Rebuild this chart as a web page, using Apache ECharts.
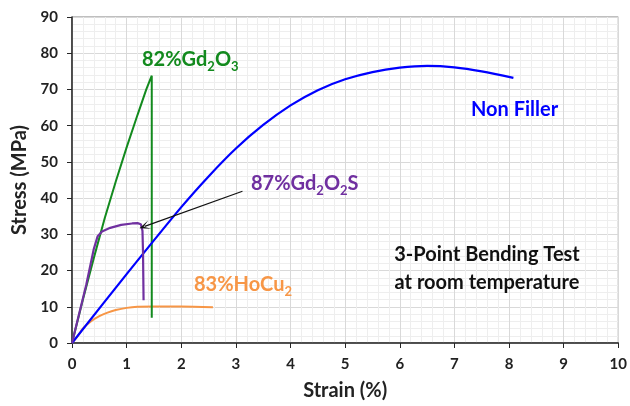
<!DOCTYPE html>
<html>
<head>
<meta charset="utf-8">
<script src="https://cdn.jsdelivr.net/npm/echarts@6/dist/echarts.min.js"></script>
<style>
  html, body { margin: 0; padding: 0; background: #fff; }
  #chart { width: 630px; height: 406px; }
</style>
</head>
<body>
<div id="chart"></div>
<script>
// values, strain (%) / stress (MPa)
const nonFillerStrain = [0, 1, 2, 2.5, 3, 3.5, 4, 4.5, 5, 5.5, 6, 6.5, 7, 7.5, 8.08]
const nonFillerStress = [0, 19, 37.5, 46, 53.7, 60.2, 65.6, 69.8, 72.8, 74.8, 76, 76.5, 76.1, 75, 73.2]

const gd2o3Strain = [0, 0.2, 0.4, 0.6, 0.8, 1.0, 1.2, 1.36, 1.46, 1.46]
const gd2o3Stress = [0, 12, 23.5, 34.5, 44.5, 54, 63, 70, 73.8, 7]

const gd2o2sStrain = [0, 0.13, 0.26, 0.4, 0.47, 0.55, 0.7, 0.9, 1.1, 1.2, 1.26, 1.29, 1.3, 1.31]
const gd2o2sStress = [0, 8, 16, 26, 29.5, 30.8, 31.8, 32.6, 33, 33.1, 32.8, 31, 25, 11.8]

const hocu2Strain = [0, 0.1, 0.2, 0.35, 0.5, 0.65, 0.8, 1, 1.2, 1.5, 2, 2.58]
const hocu2Stress = [0, 1.8, 4, 6, 7.4, 8.4, 9.1, 9.7, 10, 10.1, 10.1, 9.9]

const arrowFrom = [3.12, 41.9]
const arrowTo = [1.33, 32.2]

const zip = (xs, ys) => xs.map((x, i) => [x, ys[i]])

const FONT = 'Lato, "Open Sans", sans-serif'
const GREEN = '#138a1e'
const BLUE = '#0000ff'
const PURPLE = '#7030a0'
const ORANGE = '#f79646'

// rich text styles for labels with subscripts
const richFor = color => ({
  m: { fontSize: 20, fontWeight: 'bold', fontFamily: FONT, color: color, lineHeight: 26, verticalAlign: 'middle' },
  s: { fontSize: 13, fontWeight: 'bold', fontFamily: FONT, color: color, lineHeight: 13, verticalAlign: 'bottom' }
})

const textLabel = (x, y, text, color, align) => ({
  type: 'text',
  x: x,
  y: y,
  z: 100,
  style: {
    text: text,
    rich: richFor(color),
    fill: color,
    font: 'bold 20px ' + FONT,
    align: align || 'left',
    verticalAlign: 'middle'
  }
})

const option = {
  animation: false,
  backgroundColor: '#fff',
  grid: {
    left: 72,
    right: 10,
    top: 17,
    bottom: 63,
    show: true,
    borderColor: '#7f7f7f',
    borderWidth: 1
  },
  xAxis: {
    type: 'value',
    min: 0,
    max: 10,
    interval: 1,
    name: 'Strain (%)',
    nameLocation: 'middle',
    nameGap: 38,
    nameTextStyle: { fontSize: 20, fontWeight: 'bold', fontFamily: FONT, color: '#222' },
    axisLine: { lineStyle: { color: '#262626', width: 1.5 } },
    axisTick: { show: true, length: 5, lineStyle: { color: '#262626' } },
    axisLabel: { fontSize: 15, fontWeight: 'bold', fontFamily: FONT, color: '#222', margin: 14 },
    splitLine: { lineStyle: { color: '#d9d9d9' } },
    minorSplitLine: { show: true, lineStyle: { color: '#eeeeee' } },
    minorTick: { show: false, splitNumber: 5 }
  },
  yAxis: {
    type: 'value',
    min: 0,
    max: 90,
    interval: 10,
    name: 'Stress (MPa)',
    nameLocation: 'middle',
    nameGap: 42,
    nameTextStyle: { fontSize: 20, fontWeight: 'bold', fontFamily: FONT, color: '#222' },
    axisLine: { show: true, lineStyle: { color: '#262626', width: 1.5 } },
    axisTick: { show: true, length: 5, lineStyle: { color: '#262626' } },
    axisLabel: { fontSize: 15, fontWeight: 'bold', fontFamily: FONT, color: '#222', margin: 14 },
    splitLine: { lineStyle: { color: '#d9d9d9' } },
    minorSplitLine: { show: true, lineStyle: { color: '#eeeeee' } },
    minorTick: { show: false, splitNumber: 5 }
  },
  series: [
    {
      name: '83%HoCu2',
      type: 'line',
      data: zip(hocu2Strain, hocu2Stress),
      showSymbol: false,
      smooth: 0.3,
      lineStyle: { color: ORANGE, width: 2 }
    },
    {
      name: '82%Gd2O3',
      type: 'line',
      data: zip(gd2o3Strain, gd2o3Stress),
      showSymbol: false,
      lineStyle: { color: GREEN, width: 2 }
    },
    {
      name: 'Non Filler',
      type: 'line',
      data: zip(nonFillerStrain, nonFillerStress),
      showSymbol: false,
      smooth: 0.3,
      lineStyle: { color: BLUE, width: 2.2 }
    },
    {
      name: '87%Gd2O2S',
      type: 'line',
      data: zip(gd2o2sStrain, gd2o2sStress),
      showSymbol: false,
      lineStyle: { color: PURPLE, width: 2.2 },
      markLine: {
        silent: true,
        symbol: ['none', 'path://M5,0 L10,10 L5,4 L0,10 Z'],
        symbolSize: [9, 11],
        label: { show: false },
        lineStyle: { color: '#111', width: 1.2, type: 'solid' },
        data: [[{ coord: arrowFrom }, { coord: arrowTo }]]
      }
    }
  ],
  graphic: [
    textLabel(142, 60, '{m|82%Gd}{s|2}{m|O}{s|3}', GREEN),
    textLabel(471, 110, '{m|Non Filler}', BLUE),
    textLabel(251, 184, '{m|87%Gd}{s|2}{m|O}{s|2}{m|S}', PURPLE),
    textLabel(194, 285, '{m|83%HoCu}{s|2}', ORANGE),
    textLabel(487, 255, '{m|3-Point Bending Test}', '#111', 'center'),
    textLabel(487, 283, '{m|at room temperature}', '#111', 'center')
  ]
}

const chart = echarts.init(document.getElementById('chart'))
chart.setOption(option)
</script>
</body>
</html>
